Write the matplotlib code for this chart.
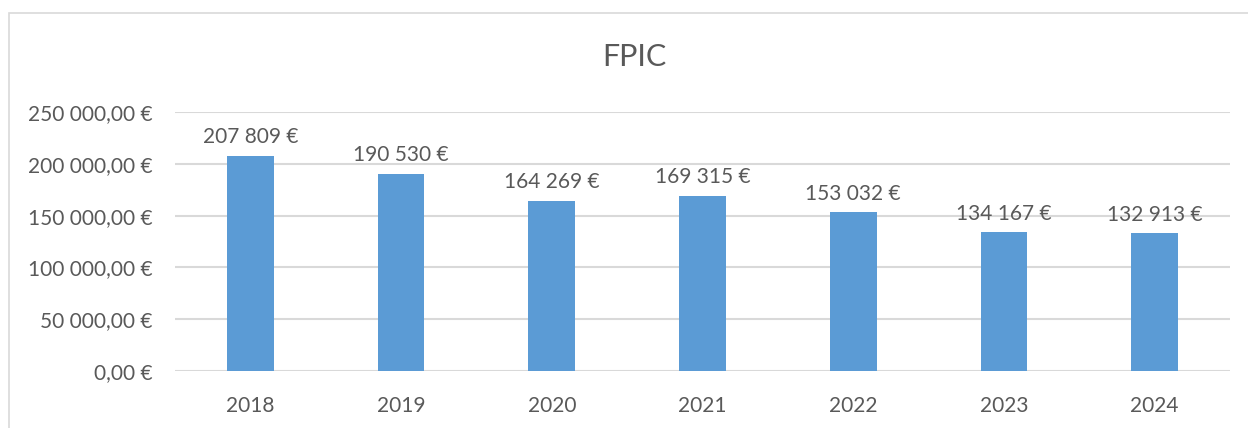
import matplotlib
matplotlib.use("Agg")
import matplotlib.pyplot as plt
import matplotlib.ticker as mtick
from matplotlib.patches import Rectangle

years = ['2018', '2019', '2020', '2021', '2022', '2023', '2024']
values = [207809, 190530, 164269, 169315, 153032, 134167, 132913]
title = 'FPIC'

TEXT = '#595959'
BAR = '#5B9BD5'
GRID = '#D9D9D9'

plt.rcParams['font.family'] = ['Lato', 'DejaVu Sans']


def fr_number(v, decimals=0):
    s = f"{v:,.{decimals}f}"
    s = s.replace(',', ' ').replace('.', ',')
    return s + ' €'


fig = plt.figure(figsize=(12.48, 4.28), dpi=100)
ax = fig.add_axes([175 / 1248, 1 - 371 / 428, (1230 - 175) / 1248, (371 - 112) / 428])

# outer chart frame (Excel style)
fig.patches.append(Rectangle((9 / 1248, -0.1), 1.2, 1 - 13 / 428 + 0.1,
                             transform=fig.transFigure, fill=False,
                             edgecolor=GRID, linewidth=1.2))

x = range(len(years))
ax.bar(x, values, width=0.31, color=BAR, zorder=3)

for xi, v in zip(x, values):
    ax.annotate(fr_number(v), (xi, v), xytext=(0, 6), textcoords='offset points',
                ha='center', va='bottom', fontsize=15, color=TEXT)

ax.set_xlim(-0.5, len(years) - 0.5)
ax.set_ylim(0, 250000)
ax.yaxis.set_major_locator(mtick.MultipleLocator(50000))
ax.yaxis.set_major_formatter(mtick.FuncFormatter(lambda v, p: fr_number(v, 2)))
ax.set_xticks(list(x))
ax.set_xticklabels(years)
ax.tick_params(axis='both', length=0, labelsize=15, labelcolor=TEXT)
ax.tick_params(axis='y', pad=16)
ax.tick_params(axis='x', pad=18)
ax.grid(axis='y', color=GRID, linewidth=1.5, zorder=0)
for s in ax.spines.values():
    s.set_visible(False)

fig.text(634 / 1248, 1 - 57 / 428, title, ha='center', va='center',
         fontsize=22, color=TEXT)

fig.savefig('out.png', dpi=100)
